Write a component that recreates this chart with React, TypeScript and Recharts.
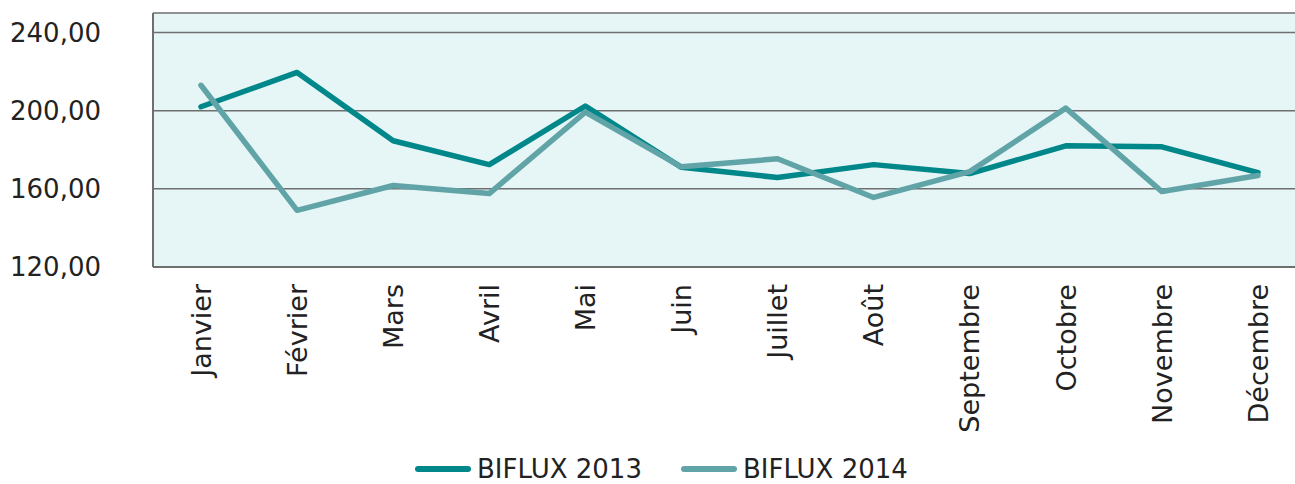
import { CartesianGrid, Legend, Line, LineChart, XAxis, YAxis } from 'recharts';

const MONTHS = ['Janvier', 'Février', 'Mars', 'Avril', 'Mai', 'Juin', 'Juillet', 'Août', 'Septembre', 'Octobre', 'Novembre', 'Décembre'];
const BIFLUX_2013 = [202, 219.6, 184.6, 172.4, 202.4, 171, 165.8, 172.4, 167.8, 182, 181.5, 168.3];
const BIFLUX_2014 = [213, 149, 161.7, 157.6, 199.3, 171.3, 175.4, 155.6, 168.8, 201.3, 158.6, 166.8];
const Y_TICKS = [120, 160, 200, 240];

const SERIES = [
  { key: 'b2013', name: 'BIFLUX 2013', color: '#00878a' },
  { key: 'b2014', name: 'BIFLUX 2014', color: '#60a4a8' },
];

const data = MONTHS.map((month, i) => ({ month, b2013: BIFLUX_2013[i], b2014: BIFLUX_2014[i] }));

const FONT = 'DejaVu Sans, sans-serif';

function MonthTick({ x, y, payload }: { x?: number; y?: number; payload?: { value: string } }) {
  return (
    <text
      x={x}
      y={y}
      transform={`rotate(-90, ${x}, ${y})`}
      textAnchor="end"
      dy="0.36em"
      fontSize={27}
      fontFamily={FONT}
      fill="#222"
    >
      {payload?.value}
    </text>
  );
}

function LegendBox() {
  return (
    <div style={{ display: 'flex', paddingLeft: 415, gap: 39, fontFamily: FONT, fontSize: 26, lineHeight: '30px', color: '#222' }}>
      {SERIES.map((s) => (
        <div key={s.key} style={{ display: 'flex', alignItems: 'center' }}>
          <span style={{ width: 56, height: 6, borderRadius: 3, background: s.color, marginRight: 6 }} />
          <span>{s.name}</span>
        </div>
      ))}
    </div>
  );
}

export default function App() {
  return (
    <div style={{ position: 'absolute', left: 0, top: 0, width: 1295, height: 484, overflow: 'hidden', background: '#fff' }}>
      <LineChart width={1306} height={484} data={data} margin={{ top: 13, right: 0, left: 0, bottom: 0 }}>
        <CartesianGrid vertical={false} fill="#e6f5f5" stroke="#6f6f6f" strokeWidth={1.5} />
        <XAxis
          dataKey="month"
          height={187}
          interval={0}
          padding={{ left: 48, right: 48 }}
          tick={<MonthTick />}
          tickLine={false}
          tickSize={0}
          tickMargin={17}
          axisLine={{ stroke: '#6f6f6f', strokeWidth: 2 }}
        />
        <YAxis
          domain={[120, 250]}
          ticks={Y_TICKS}
          width={153}
          tickSize={0}
          tickLine={false}
          tickMargin={52}
          tickFormatter={(v: number) => v.toFixed(2).replace('.', ',')}
          tick={{ fontSize: 26, fontFamily: FONT, fill: '#222' }}
          axisLine={{ stroke: '#6f6f6f', strokeWidth: 2 }}
        />
        <Legend content={<LegendBox />} wrapperStyle={{ top: 454, left: 0, width: 1295, height: 30 }} />
        {SERIES.map((s) => (
          <Line
            key={s.key}
            dataKey={s.key}
            name={s.name}
            stroke={s.color}
            strokeWidth={5.5}
            strokeLinejoin="round"
            strokeLinecap="round"
            dot={false}
            isAnimationActive={false}
          />
        ))}
      </LineChart>
    </div>
  );
}
